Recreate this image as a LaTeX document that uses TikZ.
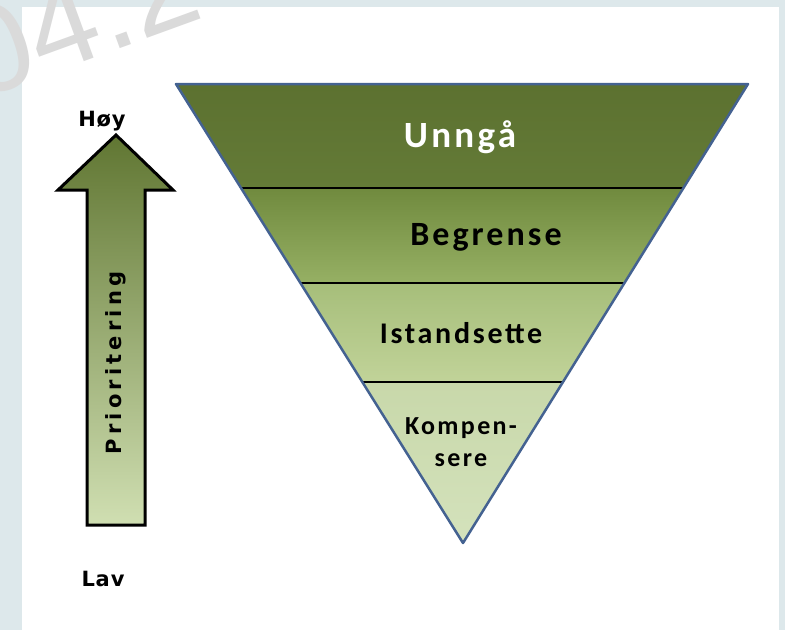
\documentclass[tikz,border=0pt]{standalone}
\usepackage{fontspec}
\usetikzlibrary{calc}
\newfontfamily\tierfont[LetterSpace=9]{Carlito}
\newfontfamily\sidefont[LetterSpace=4]{DejaVu Sans}
\newfontfamily\spacedfont[LetterSpace=20]{DejaVu Sans}
\newfontfamily\markfont{Liberation Sans}
\definecolor{framecolor}{RGB}{221,232,235}
\definecolor{markcolor}{RGB}{218,218,218}
\definecolor{edgecolor}{RGB}{68,98,145}
\definecolor{tieronetop}{RGB}{92,113,48}
\definecolor{tieronebot}{RGB}{100,123,55}
\definecolor{tiertwotop}{RGB}{112,138,62}
\definecolor{tiertwobot}{RGB}{150,176,100}
\definecolor{tierthreetop}{RGB}{166,190,122}
\definecolor{tierthreebot}{RGB}{193,211,153}
\definecolor{tierfourtop}{RGB}{200,216,170}
\definecolor{tierfourbot}{RGB}{212,226,188}
\definecolor{arrowtop}{RGB}{96,118,50}
\definecolor{arrowbot}{RGB}{208,223,178}

\begin{document}
\begin{tikzpicture}[
  x=1pt,y=-1pt,
  edge/.style={draw=edgecolor,line width=2.5pt,line join=round},
  divider/.style={draw=black,line width=2pt},
  tierlabel/.style={anchor=base,inner sep=0pt,font=\tierfont\bfseries},
  sidelabel/.style={anchor=base,inner sep=0pt,font=\sidefont\bfseries\fontsize{21}{24}\selectfont},
]
\useasboundingbox (0,0) rectangle (785,630);

% --- FRAME ---
\fill[framecolor] (0,0) rectangle (785,630);
\fill[white] (22,7) rectangle (779,630);
\node[text=markcolor,font=\markfont\fontsize{125}{125}\selectfont,rotate=20,inner sep=0pt]
  (mark) at (78,18) {04.2};

% --- TRIANGLE ---
\coordinate (tl) at (176,84);
\coordinate (tr) at (748,84);
\coordinate (ap) at (463,543);
\foreach \n/\f in {1/0.2266,2/0.4336,3/0.6492} {
  \coordinate (l\n) at ($(tl)!\f!(ap)$);
  \coordinate (r\n) at ($(tr)!\f!(ap)$);
}
\shade[top color=tieronetop,bottom color=tieronebot] (tl) -- (tr) -- (r1) -- (l1) -- cycle;
\shade[top color=tiertwotop,bottom color=tiertwobot] (l1) -- (r1) -- (r2) -- (l2) -- cycle;
\shade[top color=tierthreetop,bottom color=tierthreebot] (l2) -- (r2) -- (r3) -- (l3) -- cycle;
\shade[top color=tierfourtop,bottom color=tierfourbot] (l3) -- (r3) -- (ap) -- cycle;
\foreach \n in {1,2,3} {
  \draw[divider] (l\n) -- (r\n);
}
\draw[edge] (tl) -- (tr) -- (ap) -- cycle;

% --- TIER LABELS ---
\node[tierlabel,text=white,font=\tierfont\bfseries\fontsize{37}{40}\selectfont]
  (avoid) at (460,147) {Unngå};
\node[tierlabel,font=\tierfont\bfseries\fontsize{34}{36}\selectfont]
  (limit) at (486,245) {Begrense};
\node[tierlabel,font=\tierfont\bfseries\fontsize{30}{32}\selectfont]
  (restore) at (461,343) {Istandsette};
\node[tierlabel,anchor=center,align=center,font=\tierfont\bfseries\fontsize{26}{32}\selectfont]
  (compensate) at (461,442) {Kompen-\\sere};

% --- PRIORITY ARROW ---
\coordinate (tip) at (116,135);
\coordinate (wingl) at (58,190);
\coordinate (wingr) at (173,190);
\coordinate (shaftl) at (87,190);
\coordinate (shaftr) at (145,190);
\coordinate (footl) at (87,525);
\coordinate (footr) at (145,525);
\shadedraw[top color=arrowtop,bottom color=arrowbot,draw=black,line width=3pt,line join=miter]
  (tip) -- (wingr) -- (shaftr) -- (footr) -- (footl) -- (shaftl) -- (wingl) -- cycle;
\node[inner sep=0pt,rotate=90,font=\spacedfont\bfseries\fontsize{21}{24}\selectfont]
  (priority) at (116,363) {Prioritering};

\node[sidelabel] (high) at (102,126) {Høy};
\node[sidelabel] (low) at (103,586) {Lav};

\end{tikzpicture}
\end{document}
